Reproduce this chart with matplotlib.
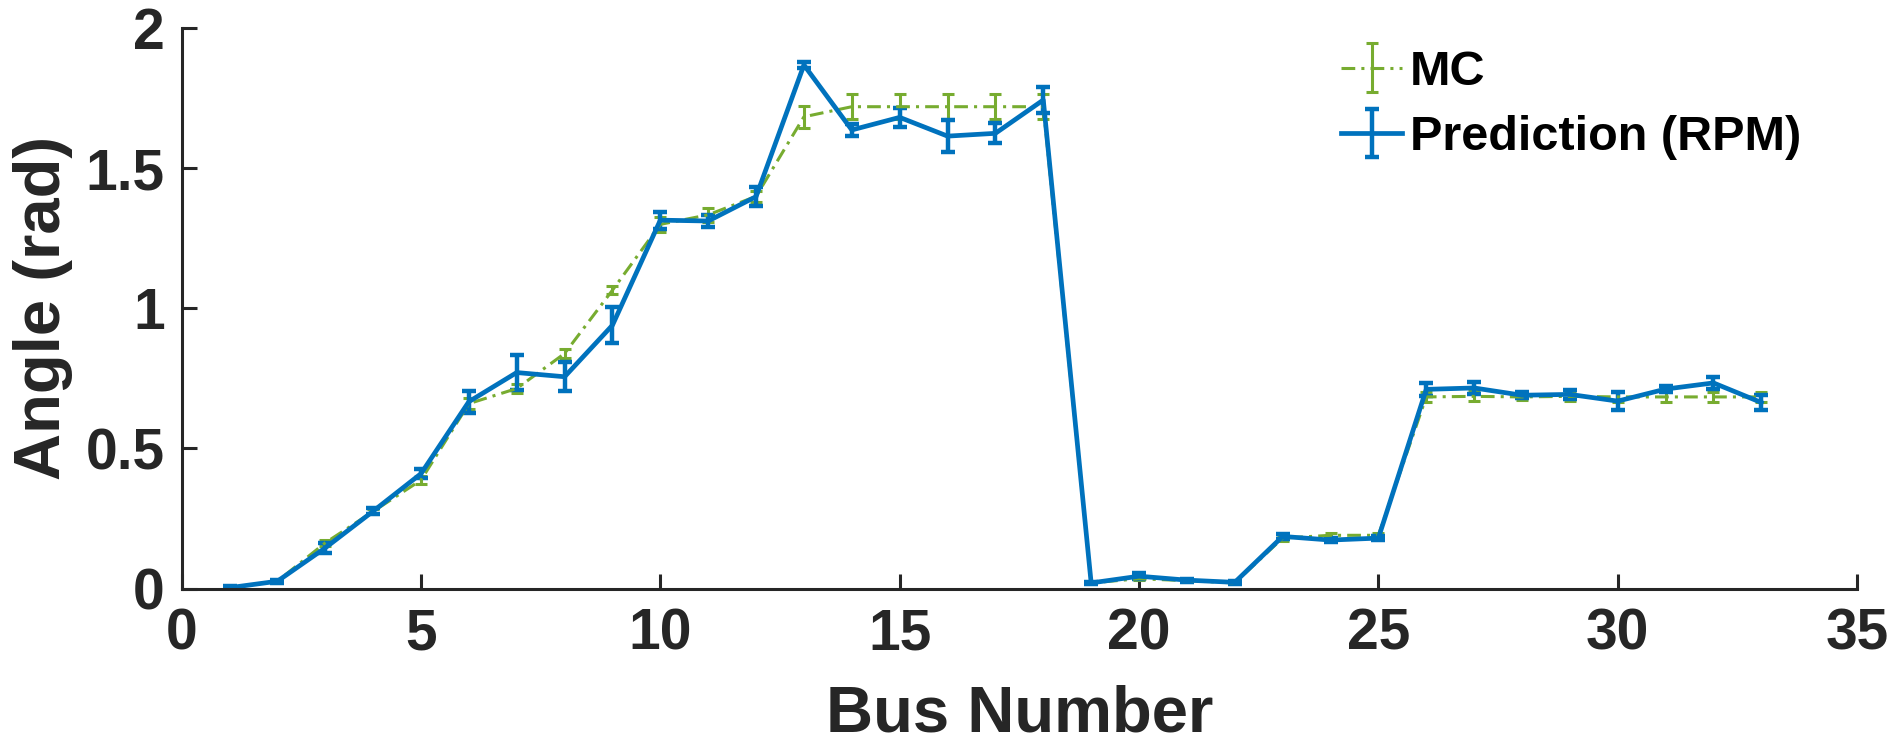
import numpy as np
import matplotlib
matplotlib.use('Agg')
import matplotlib.pyplot as plt

plt.rcParams['font.family'] = ['Liberation Sans', 'DejaVu Sans']
plt.rcParams['font.weight'] = 'bold'

# Bus numbers
bus = np.arange(1, 34)

# Monte Carlo angles and error
mc_angle = [0.003, 0.026, 0.163, 0.275, 0.387, 0.660, 0.714, 0.839, 1.065, 1.300,
            1.334, 1.400, 1.684, 1.720, 1.720, 1.720, 1.720, 1.720, 0.020, 0.035,
            0.028, 0.020, 0.180, 0.190, 0.190, 0.684, 0.686, 0.684, 0.686, 0.684,
            0.684, 0.684, 0.684]
mc_err = [0.005, 0.005, 0.012, 0.010, 0.015, 0.020, 0.015, 0.015, 0.015, 0.027,
          0.025, 0.020, 0.039, 0.045, 0.045, 0.045, 0.045, 0.045, 0.005, 0.005,
          0.005, 0.005, 0.010, 0.010, 0.010, 0.018, 0.018, 0.012, 0.018, 0.018,
          0.018, 0.018, 0.018]

# RPM prediction angles and error
rpm_angle = [0.003, 0.026, 0.145, 0.276, 0.410, 0.667, 0.771, 0.756, 0.940, 1.315,
             1.312, 1.399, 1.869, 1.637, 1.682, 1.615, 1.625, 1.744, 0.020, 0.044,
             0.030, 0.022, 0.186, 0.173, 0.180, 0.711, 0.716, 0.690, 0.693, 0.669,
             0.712, 0.734, 0.664]
rpm_err = [0.005, 0.005, 0.018, 0.010, 0.015, 0.039, 0.062, 0.052, 0.065, 0.030,
           0.022, 0.034, 0.012, 0.022, 0.033, 0.057, 0.036, 0.045, 0.005, 0.010,
           0.005, 0.005, 0.008, 0.008, 0.008, 0.023, 0.020, 0.010, 0.015, 0.031,
           0.012, 0.022, 0.028]

green = '#77AC30'
blue = '#0072BD'
axcol = '#262626'

fig = plt.figure(figsize=(18.94, 7.5), dpi=100)
ax = fig.add_axes([0.0959, 0.2153, 0.9805 - 0.0959, 0.9623 - 0.2153])

ax.errorbar(bus, mc_angle, yerr=mc_err, color=green, lw=2.2,
            linestyle=(0, (4.5, 2, 1, 2)), capsize=4.5, capthick=2.2,
            elinewidth=2.2, label='MC')
ax.errorbar(bus, rpm_angle, yerr=rpm_err, color=blue, lw=3.4,
            capsize=4.8, capthick=3.2, elinewidth=3.2, label='Prediction (RPM)')

ax.set_xlim(0, 35)
ax.set_ylim(0, 2)
ax.set_xticks([0, 5, 10, 15, 20, 25, 30, 35])
ax.set_yticks([0, 0.5, 1, 1.5, 2])
ax.set_yticklabels(['0', '0.5', '1', '1.5', '2'])

for side in ['top', 'right']:
    ax.spines[side].set_visible(False)
for side in ['left', 'bottom']:
    ax.spines[side].set_linewidth(2.2)
    ax.spines[side].set_color(axcol)

ax.tick_params(direction='in', length=11, width=2.2, color=axcol,
               labelsize=41, labelcolor=axcol)
ax.tick_params(axis='x', pad=14)
ax.tick_params(axis='y', pad=12)

ax.set_xlabel('Bus Number', fontsize=47, fontweight='bold', color=axcol, labelpad=16)
ax.set_ylabel('Angle (rad)', fontsize=47, fontweight='bold', color=axcol, labelpad=9)

ax.legend(loc='upper left', bbox_to_anchor=(0.692, 0.962), frameon=False,
          fontsize=35, handlelength=1.26, handletextpad=0.16,
          labelspacing=0.42, borderpad=0, borderaxespad=0)

fig.savefig('out.png', dpi=100)
